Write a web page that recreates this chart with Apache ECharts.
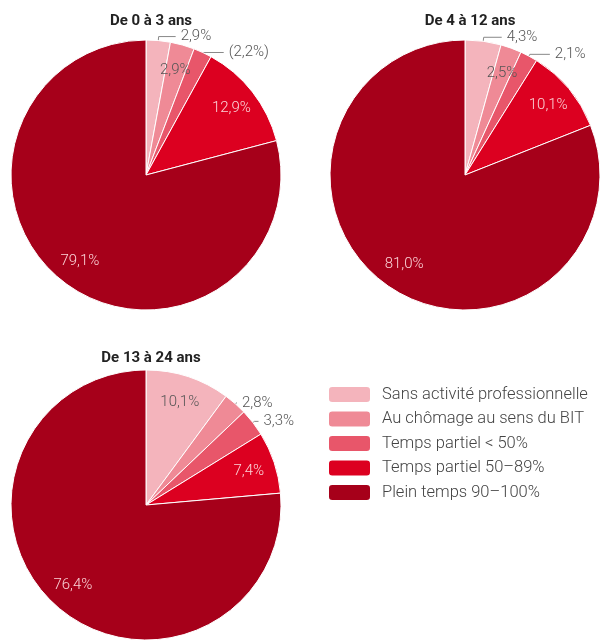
<!DOCTYPE html>
<html>
<head>
<meta charset="utf-8">
<script src="https://cdn.jsdelivr.net/npm/echarts@6/dist/echarts.min.js"></script>
<style>
  html, body { margin: 0; padding: 0; background: #fff; }
  #main { width: 601px; height: 640px; }
</style>
</head>
<body>
<div id="main"></div>
<script>
// catégories (légende)
const categories = [
  'Sans activité professionnelle',
  'Au chômage au sens du BIT',
  'Temps partiel < 50%',
  'Temps partiel 50–89%',
  'Plein temps 90–100%'
];
const groups = ['De 0 à 3 ans', 'De 4 à 12 ans', 'De 13 à 24 ans'];

// parts en %
const age0to3 = [2.9, 2.9, 2.2, 12.9, 79.1];
const age4to12 = [4.3, 2.5, 2.1, 10.1, 81.0];
const age13to24 = [10.1, 2.8, 3.3, 7.4, 76.4];

// étiquettes placées à l'extérieur, et valeurs entre parenthèses
const outsideIdx = [[0, 2], [0, 2], [1, 2]];
const bracketIdx = [[2], [], []];

const colors = ['#F4B4BC', '#EF8A96', '#E8566A', '#DC0020', '#A6001A'];

const R = 135;
const centers = [[146, 175], [465, 175], [146, 505]];
const titleTops = [9, 9, 346];
const lineLens = [[[4, 17], null, [0, 21]], [[4, 18], null, [2, 20]], [null, [1, 1], [2, 4]]];

const font = 'Roboto, "Noto Sans", sans-serif';

function fmt(v, bracket) {
  let s = v.toFixed(1).replace('.', ',') + '%';
  return bracket ? '(' + s + ')' : s;
}

let myChart = echarts.init(document.getElementById('main'));
let allValues = [age0to3, age4to12, age13to24];

let mainSeries = [];
let labelSeries = [];
allValues.forEach(function (vals, g) {
  mainSeries.push({
    name: groups[g],
    type: 'pie',
    center: centers[g],
    radius: [0, R],
    startAngle: 90,
    avoidLabelOverlap: false,
    itemStyle: { borderColor: '#fff', borderWidth: 1 },
    emphasis: { disabled: true },
    label: { show: false },
    labelLine: { show: false },
    data: vals.map(function (v, i) {
      let out = outsideIdx[g].indexOf(i) >= 0;
      let item = { name: categories[i], value: v, itemStyle: { color: colors[i] } };
      if (out) {
        item.label = {
          show: true,
          position: 'outside',
          formatter: fmt(v, bracketIdx[g].indexOf(i) >= 0),
          color: '#555',
          fontSize: 15,
          fontFamily: font,
          fontWeight: 300
        };
        item.labelLine = {
          show: true,
          length: lineLens[g][i][0],
          length2: lineLens[g][i][1],
          lineStyle: { color: '#888', width: 1 }
        };
      }
      return item;
    })
  });
  // série transparente pour placer les étiquettes intérieures plus près du bord
  labelSeries.push({
    name: groups[g] + ' labels',
    type: 'pie',
    silent: true,
    center: centers[g],
    radius: [R * 0.56, R],
    startAngle: 90,
    avoidLabelOverlap: false,
    itemStyle: { color: 'rgba(0,0,0,0)', borderWidth: 0 },
    emphasis: { disabled: true },
    labelLine: { show: false },
    data: vals.map(function (v, i) {
      let inside = outsideIdx[g].indexOf(i) < 0;
      return {
        name: categories[i],
        value: v,
        itemStyle: { color: 'rgba(0,0,0,0)' },
        label: {
          show: inside,
          position: 'inside',
          formatter: fmt(v, false),
          color: i < 2 ? '#555' : '#FBD3D8',
          fontSize: 15,
          fontFamily: font,
          fontWeight: 300
        }
      };
    })
  });
});

let option = {
  animation: false,
  backgroundColor: '#fff',
  title: groups.map(function (t, g) {
    return {
      text: t,
      left: centers[g][0],
      top: titleTops[g],
      textAlign: 'center',
      textStyle: { fontSize: 15, fontWeight: 'bold', color: '#222', fontFamily: font }
    };
  }),
  legend: {
    orient: 'vertical',
    left: 327,
    top: 385,
    padding: 0,
    itemWidth: 43,
    itemHeight: 17,
    itemGap: 5.5,
    data: categories,
    textStyle: { fontSize: 16.5, color: '#444', fontFamily: font, fontWeight: 300, padding: [0, 0, 0, 6] }
  },
  series: mainSeries.concat(labelSeries)
};
myChart.setOption(option);
</script>
</body>
</html>
